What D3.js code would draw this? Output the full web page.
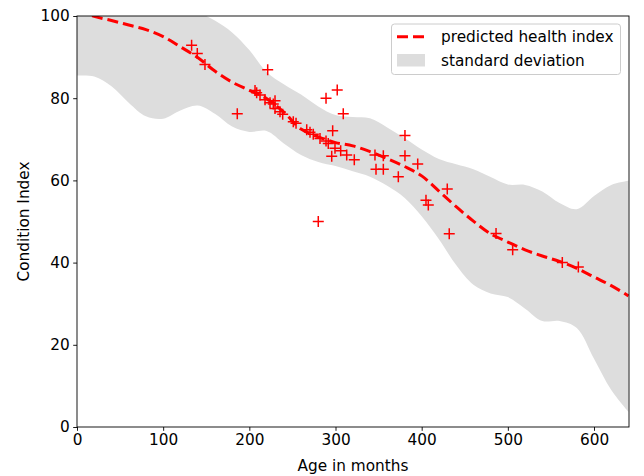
<!DOCTYPE html>
<html>
<head>
<meta charset="utf-8">
<script src="https://cdn.jsdelivr.net/npm/d3@7"></script>
<style>
  body { margin: 0; background: #fff; }
  text { font-family: "DejaVu Sans", sans-serif; }
</style>
</head>
<body>
<div id="chart"></div>
<script>
// observed samples
var ageMonths = [133, 139.6, 148.5, 186, 221.3, 206.6, 208.5, 212.4, 218.2, 224, 227.8, 229.8, 229.8,
  235.6, 238.7, 251, 254.2, 266.6, 270.4, 274.2, 282, 289, 291.6, 296.7, 289, 302, 309, 299.4, 306,
  295.6, 313, 321.8, 280, 345.8, 355.5, 347, 355.5, 372.9, 380.6, 380.6, 395.4, 429.7, 405, 407.7,
  432, 486.3, 505.6, 563.2, 581.8];
var conditionIndex = [92.9, 90.9, 88.2, 76.2, 86.9, 81.9, 81.3, 80.8, 79.6, 78.9, 78.6, 79.4, 77.5,
  76.7, 76.1, 74.3, 73.9, 72.3, 71.7, 71.2, 70.2, 69.6, 69.0, 72.1, 80.0, 82.0, 76.2, 67.8, 67.2,
  65.9, 66.2, 65.0, 50.0, 66.2, 66.0, 62.7, 62.7, 60.9, 70.9, 66.0, 64.0, 57.9, 55.2, 54.0,
  47.0, 47.1, 43.1, 40.0, 38.9];

// prediction grid
var gridAge = [0, 20, 40, 60, 80, 100, 120, 140, 160, 180, 200, 220, 240, 260, 280, 300, 320,
  340, 360, 380, 400, 420, 440, 460, 480, 500, 520, 540, 560, 580, 600, 620, 640];
var predicted = [101.5, 99.9, 98.9, 97.8, 96.7, 95.0, 92.5, 89.9, 86.6, 83.9, 81.9, 79.9, 76.6,
  72.5, 70.6, 69.2, 68.4, 67.0, 65.3, 63.4, 61.1, 57.4, 53.6, 50.1, 47.0, 45.0, 43.1, 41.6,
  40.3, 38.6, 36.5, 34.4, 31.9];
var upperSd = [108, 108, 107, 106, 105, 104, 103, 101, 98.9, 96.0, 91.7, 86.4, 83.4, 80.9, 78.0,
  75.9, 75.4, 75.1, 72.9, 70.3, 67.5, 65.2, 63.9, 62.7, 60.8, 59.0, 58.9, 57.3, 54.5, 53.0,
  56.2, 58.9, 59.9];
var lowerSd = [85.5, 85.3, 82.9, 78.9, 75.6, 75.0, 77.0, 78.2, 76.2, 73.1, 71.8, 72.0, 69.0, 66.2,
  64.5, 63.5, 62.2, 60.9, 58.7, 55.8, 51.3, 45.7, 39.4, 34.6, 32.5, 31.6, 28.8, 25.8, 25.8,
  24.1, 16.6, 9.0, 3.7];

var xTicks = [0, 100, 200, 300, 400, 500, 600];
var yTicks = [0, 20, 40, 60, 80, 100];

var W = 644, H = 476;
var margin = {top: 16, right: 15, bottom: 49, left: 77};
var width = W - margin.left - margin.right,
    height = H - margin.top - margin.bottom;
var fs = "15.3px";

var x = d3.scaleLinear().domain([0, 640.6]).range([0, width]);
var y = d3.scaleLinear().domain([0, 100]).range([height, 0]);

var svg = d3.select("#chart").append("svg")
    .attr("width", W)
    .attr("height", H)
  .append("g")
    .attr("transform", "translate(" + margin.left + "," + margin.top + ")");

svg.append("defs").append("clipPath").attr("id", "plotclip")
  .append("rect").attr("width", width).attr("height", height);

var grid = gridAge.map(function(a, i) {
  return {age: a, pred: predicted[i], hi: upperSd[i], lo: lowerSd[i]};
});

var plot = svg.append("g").attr("clip-path", "url(#plotclip)");

// standard deviation band
plot.append("path")
  .datum(grid)
  .attr("fill", "#dddddd")
  .attr("d", d3.area()
    .curve(d3.curveCatmullRom)
    .x(function(d) { return x(d.age); })
    .y0(function(d) { return y(d.lo); })
    .y1(function(d) { return y(d.hi); }));

// predicted line
plot.append("path")
  .datum(grid)
  .attr("fill", "none")
  .attr("stroke", "#ff0000")
  .attr("stroke-width", 3)
  .attr("stroke-dasharray", "11,5")
  .attr("d", d3.line()
    .curve(d3.curveCatmullRom)
    .x(function(d) { return x(d.age); })
    .y(function(d) { return y(d.pred); }));

// plus markers
var pts = ageMonths.map(function(a, i) { return {age: a, ci: conditionIndex[i]}; });
plot.selectAll(".pt")
  .data(pts)
  .enter().append("path")
  .attr("class", "pt")
  .attr("transform", function(d) { return "translate(" + x(d.age) + "," + y(d.ci) + ")"; })
  .attr("d", "M-5.5,0H5.5M0,-5.5V5.5")
  .attr("stroke", "#ff0000")
  .attr("stroke-width", 1.5)
  .attr("fill", "none");

// axes
var xAxis = svg.append("g")
  .attr("transform", "translate(0," + height + ")")
  .call(d3.axisBottom(x).tickValues(xTicks).tickSize(3.8).tickPadding(3.5).tickSizeOuter(0));
var yAxis = svg.append("g")
  .call(d3.axisLeft(y).tickValues(yTicks).tickSize(3.8).tickPadding(3.5).tickSizeOuter(0));
[xAxis, yAxis].forEach(function(ax) {
  ax.select(".domain").remove();
  ax.selectAll("line").attr("stroke", "#000").attr("stroke-width", 0.9);
  ax.selectAll("text").attr("font-size", fs).attr("fill", "#000")
    .style("font-family", "DejaVu Sans, sans-serif");
});

// frame
svg.append("rect")
  .attr("width", width).attr("height", height)
  .attr("fill", "none").attr("stroke", "#000").attr("stroke-width", 0.9);

// axis labels
svg.append("text")
  .attr("x", width / 2).attr("y", height + 44)
  .attr("text-anchor", "middle").attr("font-size", fs)
  .text("Age in months");
svg.append("text")
  .attr("transform", "translate(" + (-48) + "," + (height / 2) + ") rotate(-90)")
  .attr("text-anchor", "middle").attr("font-size", fs)
  .text("Condition Index");

// legend
var lg = svg.append("g").attr("transform", "translate(" + (391.5 - margin.left) + "," + (24 - margin.top) + ")");
lg.append("rect")
  .attr("width", 229).attr("height", 50.5).attr("rx", 3)
  .attr("fill", "#fff").attr("fill-opacity", 0.8)
  .attr("stroke", "#cccccc").attr("stroke-width", 1);
lg.append("line")
  .attr("x1", 5.5).attr("x2", 33.5).attr("y1", 12.7).attr("y2", 12.7)
  .attr("stroke", "#ff0000").attr("stroke-width", 3).attr("stroke-dasharray", "11,5");
lg.append("text").attr("x", 49.5).attr("y", 18).attr("font-size", fs).text("predicted health index");
lg.append("rect")
  .attr("x", 5.5).attr("y", 30).attr("width", 28).attr("height", 12.5)
  .attr("fill", "#dddddd");
lg.append("text").attr("x", 49.5).attr("y", 41.5).attr("font-size", fs).text("standard deviation");
</script>
</body>
</html>
